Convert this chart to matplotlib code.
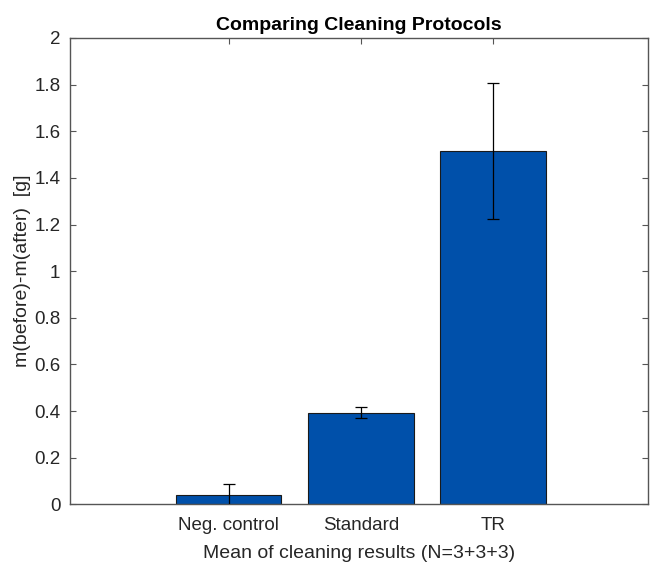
import numpy as np
import matplotlib.pyplot as plt
from matplotlib.ticker import FuncFormatter

plt.rcParams['font.family'] = ['Liberation Sans', 'DejaVu Sans']

protocols = ["Neg. control", "Standard", "TR"]
mass_loss = [0.041, 0.393, 1.515]
mass_err = [0.047, 0.025, 0.290]

fig = plt.figure(figsize=(6.5, 5.62), dpi=100)
ax = fig.add_axes([0.1077, 0.1027, 0.8893, 0.8297])

x = np.arange(1, len(protocols) + 1)
ax.bar(x, mass_loss, width=0.8, color="#0050AA", edgecolor="#1a1a1a", linewidth=0.8, zorder=2)
ax.errorbar(x, mass_loss, yerr=mass_err, fmt="none", ecolor="black", elinewidth=0.9,
            capsize=4.5, capthick=0.9, zorder=3)

ax.set_xlim(-0.198, 4.17)
ax.set_ylim(0, 2)
ax.set_xticks(x)
ax.set_xticklabels(protocols)
ax.set_yticks(np.arange(0, 2.01, 0.2))
ax.yaxis.set_major_formatter(FuncFormatter(lambda v, p: f"{v:g}"))

axis_col = "#555555"
for s in ax.spines.values():
    s.set_color(axis_col)
    s.set_linewidth(1.0)
ax.tick_params(direction="in", length=4, width=0.8, color=axis_col,
               top=True, right=True, labelsize=13.5, labelcolor="#262626")
ax.tick_params(axis="x", pad=9)
ax.tick_params(axis="y", pad=7)

ax.set_xlabel("Mean of cleaning results (N=3+3+3)", fontsize=14, color="#262626", labelpad=8)
ax.set_ylabel("m(before)-m(after)  [g]", fontsize=14, color="#262626", labelpad=2)
ax.set_title("Comparing Cleaning Protocols", fontsize=14, fontweight="bold", pad=6)

fig.savefig("out.png", dpi=100)
